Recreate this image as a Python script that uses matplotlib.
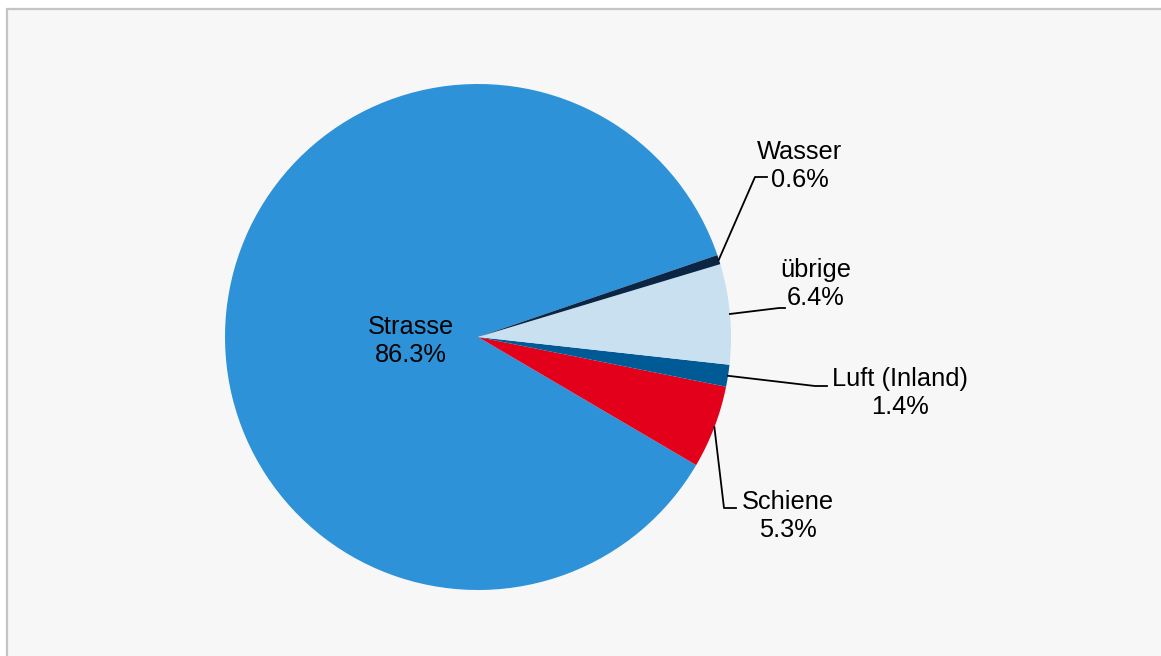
import matplotlib.pyplot as plt
import matplotlib.patches as mpatches
import numpy as np

plt.rcParams['font.family'] = ['Liberation Sans', 'DejaVu Sans']

# share by mode of transport (%)
modes = ["Strasse", "Schiene", "Luft (Inland)", "übrige", "Wasser"]
shares = [86.3, 5.3, 1.4, 6.4, 0.6]
colors = ["#2E92D8", "#E2001A", "#005A96", "#C8E0EF", "#0B2645"]

fig = plt.figure(figsize=(11.61, 6.56), dpi=100)
fig.patch.set_facecolor("white")
ax = fig.add_axes([0, 0, 1, 1])

H = 656
cx, cy, r = 478, H - 337, 253
start = 18.9

# chart frame
ax.add_patch(mpatches.Rectangle((7, -20), 1200, H - 9 + 20, facecolor="#F7F7F7",
                                edgecolor="#C4C4C4", linewidth=1.6, zorder=0))

wedges, _ = ax.pie(shares, colors=colors, startangle=start, counterclock=True,
                   radius=r, center=(cx, cy), frame=True,
                   wedgeprops=dict(linewidth=0))

# label position and leader elbow for every slice
label_xy = {"Strasse": (411, 341), "Wasser": (800, 166), "übrige": (816, 284),
            "Luft (Inland)": (900, 393), "Schiene": (788, 516)}
elbow = {"Wasser": [(755, 177), (767, 177)],
         "übrige": [(779, 308), (785, 308)],
         "Luft (Inland)": [(815, 386), (827, 386)],
         "Schiene": [(724, 508), (736, 508)]}

for w, name, val in zip(wedges, modes, shares):
    lx, ly = label_xy[name]
    ax.text(lx, H - ly, f"{name}\n{val:.1f}%", ha="center", va="center",
            fontsize=18.3, linespacing=1.22, color="black", zorder=5)
    if name in elbow:
        mid = np.deg2rad((w.theta1 + w.theta2) / 2)
        px = cx + r * np.cos(mid)
        py = cy + r * np.sin(mid)
        xs = [px] + [p[0] for p in elbow[name]]
        ys = [py] + [H - p[1] for p in elbow[name]]
        ax.plot(xs, ys, color="black", linewidth=1.3, zorder=4)

ax.set_xlim(0, 1161)
ax.set_ylim(0, H)
ax.set_aspect("equal")
ax.axis("off")

fig.savefig("out.png", dpi=100)
